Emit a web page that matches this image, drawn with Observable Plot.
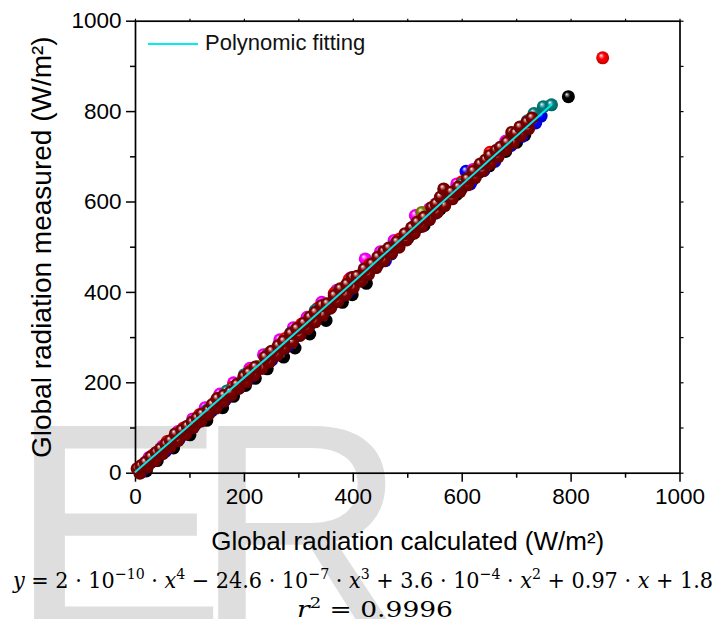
<!DOCTYPE html>
<html>
<head>
<meta charset="utf-8">
<script src="https://cdn.jsdelivr.net/npm/d3@7"></script>
<script src="https://cdn.jsdelivr.net/npm/@observablehq/plot@0.6"></script>
<style>
  body { margin: 0; background: #fff; }
  #wrap { position: relative; width: 725px; height: 619px; overflow: hidden; background: #fff; font-family: "Liberation Sans", Arial, sans-serif; }
  #wm, #chart, #formula, #legend { position: absolute; left: 0; }
  #wm { top: 0; }
  #chart { top: 0; }
  #formula { top: 560px; }
</style>
</head>
<body>
<div id="wrap">
  <svg id="wm" width="725" height="619">
    <text x="7" y="629" font-family="Liberation Sans, Arial, sans-serif" font-size="295" fill="#dedede" transform="translate(7,0) scale(1.12,1) translate(-7,0)">E</text>
    <text x="194" y="629" font-family="Liberation Sans, Arial, sans-serif" font-size="295" fill="#dedede">R</text>
  </svg>
  <svg width="0" height="0" style="position:absolute">
    <defs id="gradDefs"></defs>
  </svg>
  <div id="chart"></div>
  <div id="legend" style="left:148px;top:30px;width:230px;height:30px;">
    <svg width="52" height="26" style="position:absolute;left:0;top:0"><line x1="0" x2="50" y1="14" y2="14" stroke="#00eeee" stroke-width="2"/></svg>
    <div style="position:absolute;left:57px;top:0px;font-size:22px;line-height:26px;color:#111;white-space:nowrap;">Polynomic fitting</div>
  </div>
  <svg id="formula" width="725" height="59">
    <text x="13" y="28" textLength="700" lengthAdjust="spacingAndGlyphs" font-family="DejaVu Serif, serif" font-size="22" fill="#000"><tspan font-style="italic">y</tspan> = 2 · 10<tspan dy="-9" font-size="15">−10</tspan><tspan dy="9"> · </tspan><tspan font-style="italic">x</tspan><tspan dy="-9" font-size="15">4</tspan><tspan dy="9"> − 24.6 · 10</tspan><tspan dy="-9" font-size="15">−7</tspan><tspan dy="9"> · </tspan><tspan font-style="italic">x</tspan><tspan dy="-9" font-size="15">3</tspan><tspan dy="9"> + 3.6 · 10</tspan><tspan dy="-9" font-size="15">−4</tspan><tspan dy="9"> · </tspan><tspan font-style="italic">x</tspan><tspan dy="-9" font-size="15">2</tspan><tspan dy="9"> + 0.97 · </tspan><tspan font-style="italic">x</tspan> + 1.8</text>
    <text x="297" y="57" textLength="156" lengthAdjust="spacingAndGlyphs" font-family="DejaVu Serif, serif" font-size="22" fill="#000"><tspan font-style="italic">r</tspan><tspan dy="-9" font-size="15">2</tspan><tspan dy="9"> = 0.9996</tspan></text>
  </svg>
</div>
<script>
// ---- tick values ----
const xMajorTicks = [0, 200, 400, 600, 800, 1000];
const xMinorTicks = [100, 300, 500, 700, 900];
const yMajorTicks = [0, 200, 400, 600, 800, 1000];
const yMinorTicks = [100, 300, 500, 700, 900];
const edgeTicks = [0, 100, 200, 300, 400, 500, 600, 700, 800, 900, 1000];

const xTitle = "Global radiation calculated (W/m²)";
const yTitle = "Global radiation measured (W/m²)";

// ---- polynomial fitting curve ----
const fitX = [0, 50, 100, 150, 200, 250, 300, 350, 400, 450, 500, 550, 600, 650, 700, 764];
const fitY = [3, 55, 107, 160, 212, 264, 317, 370, 423, 477, 531, 585, 639, 693, 746, 815];

// ---- measured vs calculated, per day series ----
const blackX = [20, 40, 70, 100, 131, 160, 180, 202, 220, 242, 272, 293, 320, 350, 380, 398, 424, 445, 477, 500, 530, 560, 590, 620, 650, 680, 700, 715, 795];
const blackY = [5, 28, 56, 85, 117, 145, 170, 194, 210, 231, 257, 277, 308, 338, 378, 395, 420, 462, 501, 520, 548, 585, 617, 650, 680, 712, 732, 748, 833];

const navyX = [15, 35, 60, 90, 120, 150, 175, 205, 230, 260, 290, 320, 350, 380, 410, 440, 470, 505, 535, 565, 600, 630, 665, 700, 730];
const navyY = [8, 30, 55, 88, 118, 150, 178, 205, 232, 262, 298, 328, 362, 392, 425, 458, 490, 528, 560, 595, 632, 665, 702, 742, 775];

const blueX = [10, 30, 55, 80, 110, 140, 165, 190, 215, 250, 280, 300, 330, 360, 390, 410, 440, 459, 470, 500, 520, 550, 580, 607, 615, 640, 660, 690, 710, 735, 745];
const blueY = [2, 25, 48, 75, 108, 138, 162, 188, 215, 250, 282, 305, 340, 370, 400, 428, 455, 470, 485, 525, 545, 575, 608, 668, 640, 670, 690, 725, 745, 775, 790];

const magentaX = [25, 50, 78, 105, 128, 155, 180, 210, 235, 265, 290, 315, 342, 370, 395, 422, 450, 475, 514, 540, 565, 590, 620, 650, 680, 720];
const magentaY = [35, 60, 92, 120, 145, 175, 200, 232, 262, 295, 322, 345, 378, 405, 432, 474, 490, 515, 570, 585, 612, 640, 672, 700, 735, 775];

const oliveX = [22, 48, 75, 115, 145, 170, 195, 225, 255, 285, 310, 338, 368, 400, 430, 460, 490, 515, 526, 540, 555, 585, 615, 645, 675, 705];
const oliveY = [20, 52, 80, 118, 150, 178, 202, 236, 266, 300, 325, 358, 392, 420, 456, 480, 520, 548, 577, 570, 592, 622, 655, 682, 715, 750];

const redX = [12, 32, 58, 88, 118, 148, 178, 212, 245, 275, 305, 335, 365, 392, 430, 455, 485, 525, 550, 575, 600, 630, 651, 680, 700, 858];
const redY = [18, 40, 70, 100, 130, 160, 190, 228, 265, 298, 330, 365, 398, 428, 462, 480, 518, 560, 588, 618, 645, 676, 710, 725, 750, 919];

const tealX = [8, 42, 90, 132, 168, 200, 248, 285, 330, 375, 420, 470, 510, 560, 600, 640, 690, 720, 732, 749, 764];
const tealY = [12, 48, 96, 140, 182, 218, 268, 310, 360, 405, 448, 500, 545, 598, 640, 685, 740, 780, 796, 811, 815];

const maroonLowX = [8, 22, 36, 50, 64, 78, 92, 106, 120, 134, 148, 162, 176, 190, 204, 218, 232, 246, 260, 274, 288, 302, 316, 330, 344, 358, 372, 386, 400, 414, 428, 442, 456, 470, 484, 498, 512, 526, 540, 554, 568, 582, 596, 610, 624, 638, 652, 666, 680, 694, 708, 722];
const maroonLowY = [0, 14, 28, 43, 58, 72, 86, 101, 115, 130, 144, 159, 173, 188, 202, 217, 232, 246, 261, 276, 290, 305, 320, 335, 350, 365, 380, 395, 410, 425, 440, 455, 470, 486, 500, 516, 531, 546, 561, 577, 592, 607, 623, 638, 654, 669, 685, 700, 716, 731, 747, 762];

const maroonX = [3, 10, 18, 28, 38, 46, 56, 64, 73, 85, 95, 104, 113, 122, 134, 141, 150, 162, 174, 186, 199, 208, 220, 238, 250, 262, 272, 285, 296, 309, 320, 330, 342, 352, 365, 376, 388, 398, 407, 420, 434, 445, 456, 465, 480, 495, 507, 517, 530, 544, 552, 560, 566, 580, 593, 609, 620, 633, 643, 651, 662, 670, 682, 691, 698, 706, 719, 728];
const maroonY = [10, 16, 24, 36, 46, 54, 64, 72, 87, 95, 104, 113, 122, 131, 139, 152, 165, 172, 179, 196, 214, 222, 235, 257, 270, 282, 292, 309, 320, 332, 345, 356, 371, 375, 393, 408, 418, 433, 436, 452, 463, 478, 490, 498, 512, 530, 543, 555, 566, 588, 596, 611, 629, 622, 633, 651, 668, 684, 693, 703, 714, 721, 732, 754, 752, 766, 777, 786];

// ---- series (drawing order) ----
const seriesList = [
  {id: "gBlack", color: "#000000", xs: blackX, ys: blackY},
  {id: "gNavy", color: "#000080", xs: navyX, ys: navyY},
  {id: "gBlue", color: "#0000ff", xs: blueX, ys: blueY},
  {id: "gMagenta", color: "#ff00ff", xs: magentaX, ys: magentaY},
  {id: "gOlive", color: "#808000", xs: oliveX, ys: oliveY},
  {id: "gRed", color: "#ff0000", xs: redX, ys: redY},
  {id: "gTeal", color: "#008080", xs: tealX, ys: tealY},
  {id: "gMaroonLow", color: "#800000", xs: maroonLowX, ys: maroonLowY},
  {id: "gMaroon", color: "#800000", xs: maroonX, ys: maroonY}
];

// sphere-like radial gradients
const defs = document.getElementById("gradDefs");
const NS = "http://www.w3.org/2000/svg";
for (const s of seriesList) {
  const g = document.createElementNS(NS, "radialGradient");
  g.setAttribute("id", s.id);
  g.setAttribute("cx", "0.5"); g.setAttribute("cy", "0.5"); g.setAttribute("r", "0.55");
  g.setAttribute("fx", "0.36"); g.setAttribute("fy", "0.3");
  const c = d3.color(s.color);
  const light = d3.interpolateRgb(s.color, "#ffffff")(0.55);
  const dark = c.darker(0.8).formatHex();
  const stops = [[0, "#ffffff"], [0.16, light], [0.42, s.color], [1, dark]];
  for (const [o, col] of stops) {
    const st = document.createElementNS(NS, "stop");
    st.setAttribute("offset", o);
    st.setAttribute("stop-color", col);
    g.appendChild(st);
  }
  defs.appendChild(g);
}

const fitData = fitX.map((x, i) => ({x, y: fitY[i]}));
const dotMarks = seriesList.map(s =>
  Plot.dot(s.xs.map((x, i) => ({x, y: s.ys[i]})), {x: "x", y: "y", r: 6.5, fill: `url(#${s.id})`})
);

const chart = Plot.plot({
  width: 725,
  height: 560,
  marginLeft: 135,
  marginRight: 45.5,
  marginTop: 20.7,
  marginBottom: 87.3,
  x: {domain: [0, 1000]},
  y: {domain: [0, 1000]},
  style: {fontFamily: "'Liberation Sans', Arial, sans-serif", background: "transparent", color: "#000", overflow: "visible"},
  marks: [
    Plot.axisX(xMajorTicks, {tickSize: 9, tickPadding: 6, fontSize: 22.5, label: null, strokeWidth: 1.5, tickFormat: d => String(d)}),
    Plot.axisX(xMinorTicks, {tickSize: 5, label: null, strokeWidth: 1.5, tickFormat: () => ""}),
    Plot.axisX(edgeTicks, {anchor: "top", tickSize: 3, label: null, strokeWidth: 1.2, tickFormat: () => ""}),
    Plot.axisY(yMajorTicks, {tickSize: 9, tickPadding: 5, fontSize: 22.5, label: null, strokeWidth: 1.5, tickFormat: d => String(d)}),
    Plot.axisY(yMinorTicks, {tickSize: 5, label: null, strokeWidth: 1.5, tickFormat: () => ""}),
    Plot.axisY(edgeTicks, {anchor: "right", tickSize: 3, label: null, strokeWidth: 1.2, tickFormat: () => ""}),
    Plot.frame({stroke: "#000", strokeWidth: 1.7}),
    ...dotMarks,
    Plot.line(fitData, {x: "x", y: "y", stroke: "#00e8e8", strokeWidth: 2}),
    Plot.text([xTitle], {text: d => d, frameAnchor: "bottom", textAnchor: "middle", lineAnchor: "middle", dy: 68, fontSize: 26}),
    Plot.text([yTitle], {text: d => d, frameAnchor: "left", textAnchor: "middle", lineAnchor: "middle", rotate: -90, dx: -93, fontSize: 28})
  ]
});
document.getElementById("chart").appendChild(chart);
</script>
</body>
</html>
